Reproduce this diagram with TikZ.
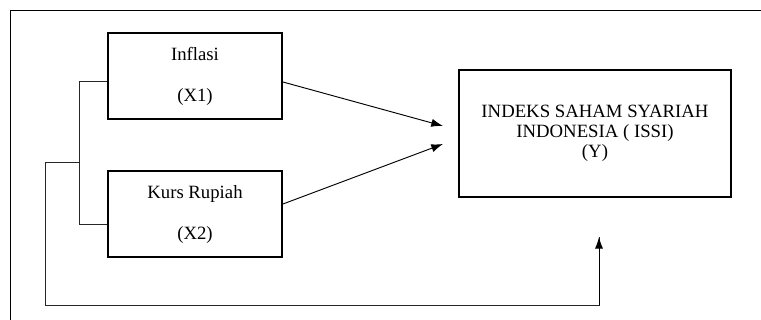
\documentclass[tikz,border=0pt]{standalone}
\usepackage{fontspec}
\setmainfont{Liberation Serif}
\usetikzlibrary{positioning}
\usetikzlibrary{arrows.meta}
\tikzset{x=0.03cm, y=-0.03cm,
var/.style={ % Sets the properties for each variable box
draw,
line width=1.6pt,
minimum width=5.22cm,
minimum height=2.58cm,
align=center,
font=\fontsize{16}{17}\selectfont},
link/.style={ % Thin connecting lines
draw=black!85,
line width=0.8pt},
every edge/.style={ % Arrows into the dependent variable
draw,
line width=0.8pt,
-{Latex[length=10pt,width=7pt]}}}

\begin{document}
\begin{tikzpicture}
	\useasboundingbox (0,0) rectangle (761,320);
	\draw[line width=0.8pt] (10,320) -- (10,10) -- (761,10);
	\node[var] (x1) at (195,76) {Inflasi\\[18pt](X1)};
	\node[var] (x2) at (195,214) {Kurs Rupiah\\[18pt](X2)};
	\node[var, minimum width=8.16cm, minimum height=3.81cm] (y) at (595,133.5) {INDEKS SAHAM SYARIAH\\INDONESIA ( ISSI)\\(Y)};
	\coordinate (t1) at (443,126);
	\coordinate (t2) at (443,144);
	\coordinate (b1) at (79,81);
	\coordinate (b2) at (79,224);
	\coordinate (j) at (79,162);
	\coordinate (s) at (45,162);
	\coordinate (c) at (45,305);
	\coordinate (t3) at (599,237);
	\draw ([yshift=-6*0.03cm]x1.east) edge (t1);
	\draw ([yshift=10*0.03cm]x2.east) edge (t2);
	\draw[link] (b1 -| x1.west) -- (b1) -- (b2) -- (b2 -| x2.west);
	\draw[link] (j) -- (s) -- (c) -| (t3);
	\draw (t3 |- c) edge (t3);
\end{tikzpicture}
\end{document}
